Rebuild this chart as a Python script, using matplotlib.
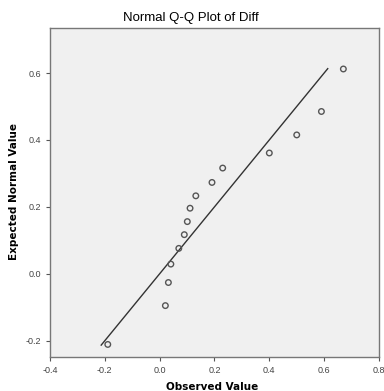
import numpy as np
import matplotlib
matplotlib.use('Agg')
import matplotlib.pyplot as plt

plt.rcParams['font.family'] = ['Liberation Sans', 'DejaVu Sans']

# observed vs expected normal values
observed = [-0.189, 0.021, 0.032, 0.041, 0.070, 0.090, 0.101, 0.111, 0.132,
            0.191, 0.230, 0.400, 0.500, 0.590, 0.670]
expected = [-0.211, -0.095, -0.026, 0.029, 0.076, 0.117, 0.156, 0.196, 0.233,
            0.273, 0.316, 0.361, 0.415, 0.485, 0.612]
line_ends = [-0.213, 0.613]
xticks = [-0.4, -0.2, 0.0, 0.2, 0.4, 0.6, 0.8]
yticks = [-0.2, 0.0, 0.2, 0.4, 0.6]

fig = plt.figure(figsize=(3.84, 3.91), dpi=100)
ax = fig.add_axes([0.130, 0.087, 0.857, 0.841])
ax.set_facecolor('#f0f0f0')

ax.plot(line_ends, line_ends, color='#333333', lw=1.0)
ax.scatter(observed, expected, s=16, facecolors='none', edgecolors='#555555', linewidths=1.0, zorder=3)

ax.set_xlim(-0.4, 0.8)
ax.set_ylim(-0.2485, 0.734)
ax.set_xticks(xticks)
ax.set_xticklabels(['%.1f' % v for v in xticks])
ax.set_yticks(yticks)
ax.set_yticklabels(['%.1f' % v for v in yticks])
ax.tick_params(labelsize=6.5, labelcolor='#444444', color='#555555', length=3, width=0.8)

for s in ax.spines.values():
    s.set_color('#777777')
    s.set_linewidth(1.0)

fig.text(0.497, 1 - 17.5 / 391, 'Normal Q-Q Plot of Diff', fontsize=9.5, ha='center', va='center')
fig.text(0.5 * (50 + 379) / 384 - 0.005, 1 - 387 / 391, 'Observed Value', fontsize=7.5,
         fontweight='bold', family='DejaVu Sans', ha='center', va='center')
fig.text(14 / 384, 1 - 191 / 391, 'Expected Normal Value', fontsize=7.5, rotation=90,
         fontweight='bold', family='DejaVu Sans', ha='center', va='center')

fig.savefig('out.png', dpi=100)
